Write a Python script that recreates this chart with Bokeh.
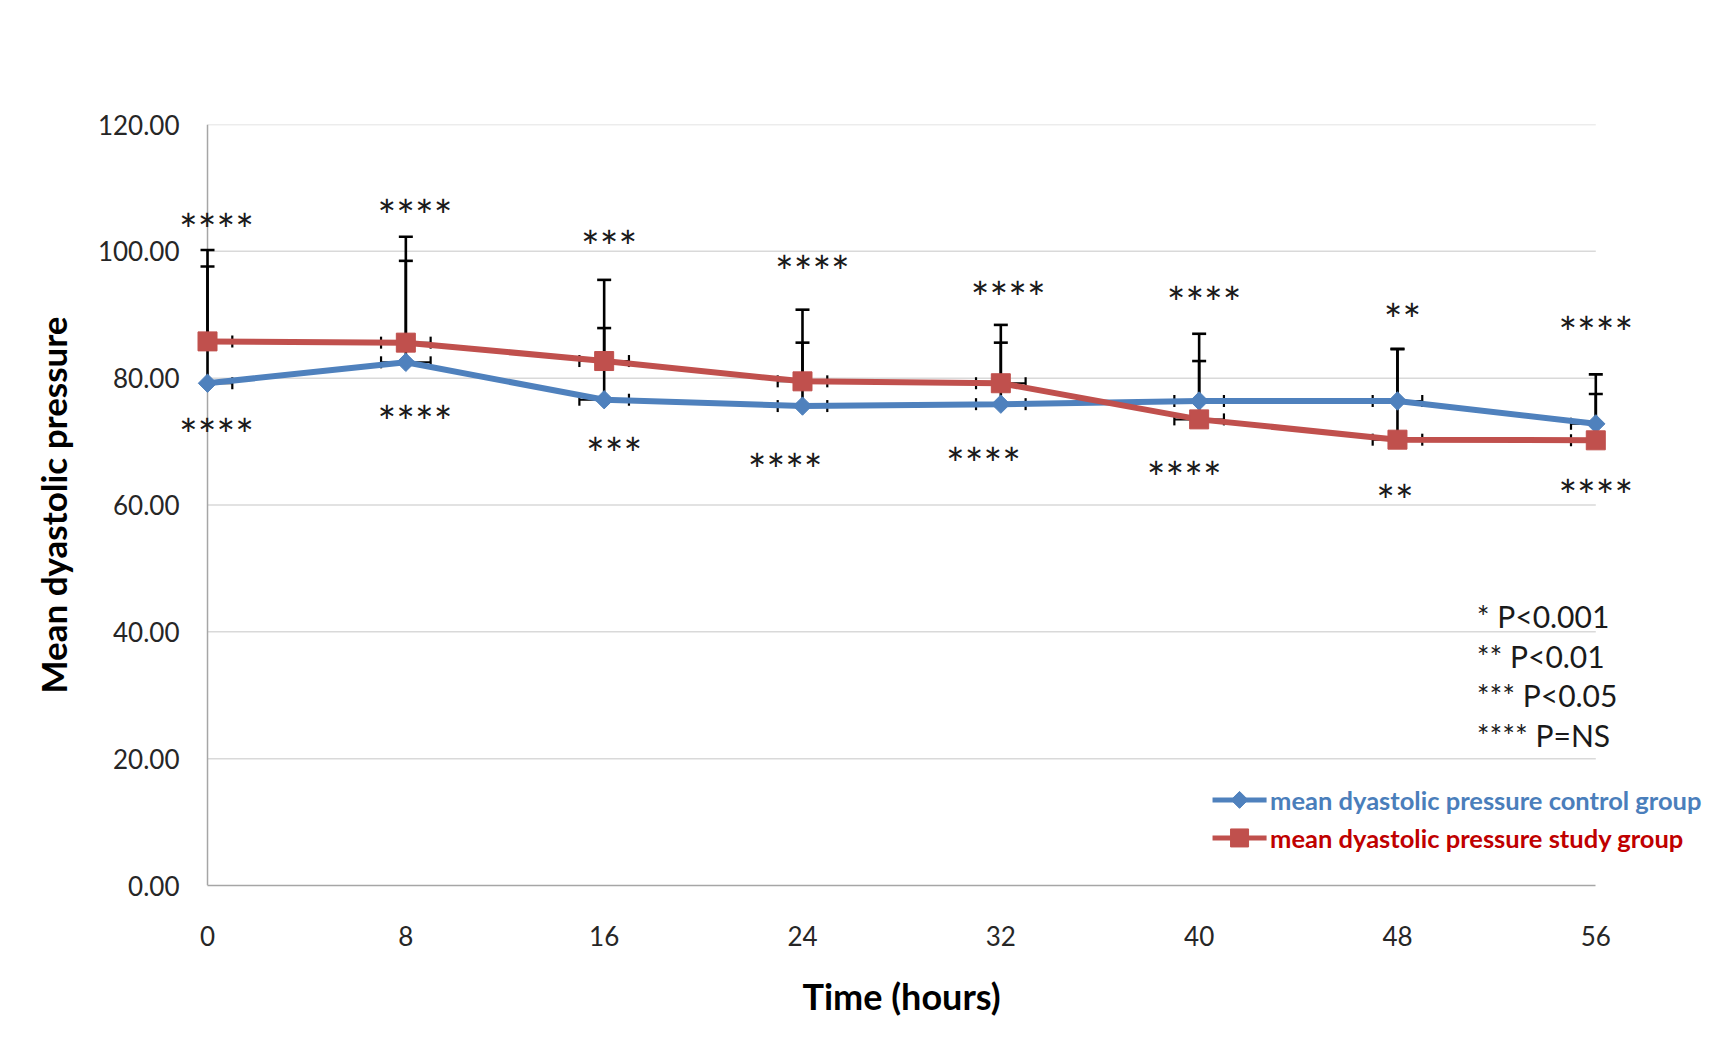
import math
from bokeh.plotting import figure
from bokeh.models import Range1d, FixedTicker, NumeralTickFormatter, ColumnDataSource, Title
from bokeh.core.properties import value
from bokeh.embed import file_html
from bokeh.resources import INLINE

# ---------------- data ----------------
hours = [0, 8, 16, 24, 32, 40, 48, 56]
control_mean = [79.2, 82.5, 76.6, 75.6, 75.9, 76.4, 76.4, 72.8]
study_mean = [85.8, 85.6, 82.7, 79.5, 79.2, 73.5, 70.3, 70.2]
control_sd = [18.4, 16.0, 11.3, 10.0, 9.7, 6.3, 8.2, 4.7]
study_sd = [14.4, 16.7, 12.8, 11.3, 9.2, 13.5, 14.3, 10.4]
hour_err = [1, 1, 1, 1, 1, 1, 1, 1]

y_ticks = [0, 20, 40, 60, 80, 100, 120]

# significance marks (above study / below control)
sig_labels = ["****", "****", "***", "****", "****", "****", "**", "****"]
sig_above_x = [0.36, 8.37, 16.2, 24.4, 32.3, 40.2, 48.2, 56.0]
sig_above_y = [104.5, 106.6, 101.8, 97.8, 93.7, 93.0, 90.3, 88.2]
sig_below_x = [0.36, 8.37, 16.4, 23.3, 31.3, 39.4, 47.9, 56.0]
sig_below_y = [72.1, 74.2, 69.1, 66.7, 67.6, 65.3, 61.7, 62.5]

key_texts = ["* P<0.001", "** P<0.01", "*** P<0.05", "**** P=NS"]
key_y = [42.5, 36.2, 30.0, 23.7]
key_x = 51.2

control_name = "mean dyastolic pressure control group"
study_name = "mean dyastolic pressure study group"

BLUE = "#4f81bd"
RED = "#c0504d"
FONT = "Lato"

X0, X1 = hours[0], hours[-1]
Y0, Y1 = y_ticks[0], y_ticks[-1]

# ---------------- figure ----------------
p = figure(width=1722, height=1041, output_backend="svg", toolbar_location=None,
           x_range=Range1d(-1.13, 60.99), y_range=Range1d(Y0, Y1),
           min_border_left=179, min_border_right=3, min_border_top=124,
           min_border_bottom=154)
p.outline_line_color = None
p.background_fill_color = "white"
p.xgrid.visible = False
p.ygrid.visible = False

# manual grid lines spanning the category extent only
gy = [t for t in y_ticks if t > Y0]
p.segment(x0=[X0] * len(gy), x1=[X1] * len(gy), y0=gy, y1=gy,
          line_color="#d9d9d9", line_width=1.5)
# y axis line at x = 0
p.segment(x0=[X0], x1=[X0], y0=[Y0], y1=[Y1], line_color="#a6a6a6", line_width=1.5)

# axes
p.xaxis.ticker = FixedTicker(ticks=hours)
p.xaxis.bounds = (X0, X1)
p.yaxis.ticker = FixedTicker(ticks=y_ticks)
p.yaxis.formatter = NumeralTickFormatter(format="0.00")
for ax in (p.xaxis[0], p.yaxis[0]):
    ax.axis_line_color = "#a6a6a6"
    ax.axis_line_width = 1.5
    ax.major_tick_line_color = None
    ax.minor_tick_line_color = None
    ax.major_tick_in = 0
    ax.major_tick_out = 0
    ax.major_label_text_font = FONT
    ax.major_label_text_font_size = "26px"
    ax.major_label_text_color = "#262626"
    ax.axis_label_text_font = FONT
    ax.axis_label_text_font_style = "bold"
    ax.axis_label_text_font_size = "35px"
    ax.axis_label_text_color = "#000000"
p.yaxis.axis_line_color = None
p.yaxis.major_label_standoff = 0
p.xaxis.major_label_standoff = 40
p.yaxis.axis_label = "Mean dyastolic pressure"
p.yaxis.axis_label_standoff = 21

# x-axis title centred on the 0..56 span (not the whole frame)
p.add_layout(Title(text="Time (hours)", align="left", offset=623, standoff=47,
                   text_font=FONT, text_font_style="bold", text_font_size="36px",
                   text_color="#000000"), "below")

# error bars; horizontal ones are clipped to the plot area like the original
for mean, sd in ((control_mean, control_sd), (study_mean, study_sd)):
    xl = [max(h - e, X0) for h, e in zip(hours, hour_err)]
    xr = [min(h + e, X1) for h, e in zip(hours, hour_err)]
    p.segment(x0=xl, x1=xr, y0=mean, y1=mean, line_color="black", line_width=2)
    cap_x, cap_y = [], []
    for h, e, m in zip(hours, hour_err, mean):
        for c in (h - e, h + e):
            if X0 <= c <= X1:
                cap_x.append(c)
                cap_y.append(m)
    p.scatter(x=cap_x, y=cap_y, marker="dash", angle=math.pi / 2, size=12,
              line_color="black", line_width=2.2)
    top = [m + s for m, s in zip(mean, sd)]
    p.segment(x0=hours, x1=hours, y0=mean, y1=top, line_color="black", line_width=2.6)
    p.scatter(x=hours, y=top, marker="dash", size=14, line_color="black", line_width=2.6)

# series
p.line(hours, control_mean, line_color=BLUE, line_width=6)
p.scatter(hours, control_mean, marker="square", angle=math.pi / 4, size=13,
          fill_color=BLUE, line_color=BLUE)
p.line(hours, study_mean, line_color=RED, line_width=6)
p.scatter(hours, study_mean, marker="square", size=19, fill_color=RED, line_color=RED)

# significance labels
for xs, ys in ((sig_above_x, sig_above_y), (sig_below_x, sig_below_y)):
    src = ColumnDataSource(dict(x=xs, y=ys, t=sig_labels))
    p.text(x="x", y="y", text="t", source=src, text_align="center",
           text_baseline="middle", y_offset=6, text_font=value(FONT),
           text_font_size="44px", text_color="#1a1a1a")

# p-value key
p.text(x=[key_x] * len(key_texts), y=key_y, text=key_texts, text_align="left",
       text_baseline="middle", text_font=value(FONT), text_font_size="30px",
       text_color="#1a1a1a")

# legend drawn in the area right of the plot
LX0, LX1, LXT = 40.54, 42.72, 42.86
for name, yy, col, tcol, sz, ang in (
        (control_name, 13.5, BLUE, "#4a7ebb", 12, math.pi / 4),
        (study_name, 7.5, RED, "#c00000", 18, 0.0)):
    p.segment(x0=[LX0], x1=[LX1], y0=[yy], y1=[yy], line_color=col, line_width=5)
    p.scatter(x=[(LX0 + LX1) / 2], y=[yy], marker="square", angle=ang, size=sz,
              fill_color=col, line_color=col)
    p.text(x=[LXT], y=[yy], text=[name], text_align="left", text_baseline="middle",
           text_font=value(FONT), text_font_style="bold", text_font_size="25.5px",
           text_color=tcol)

open("out.html", "w").write(file_html(p, INLINE))
